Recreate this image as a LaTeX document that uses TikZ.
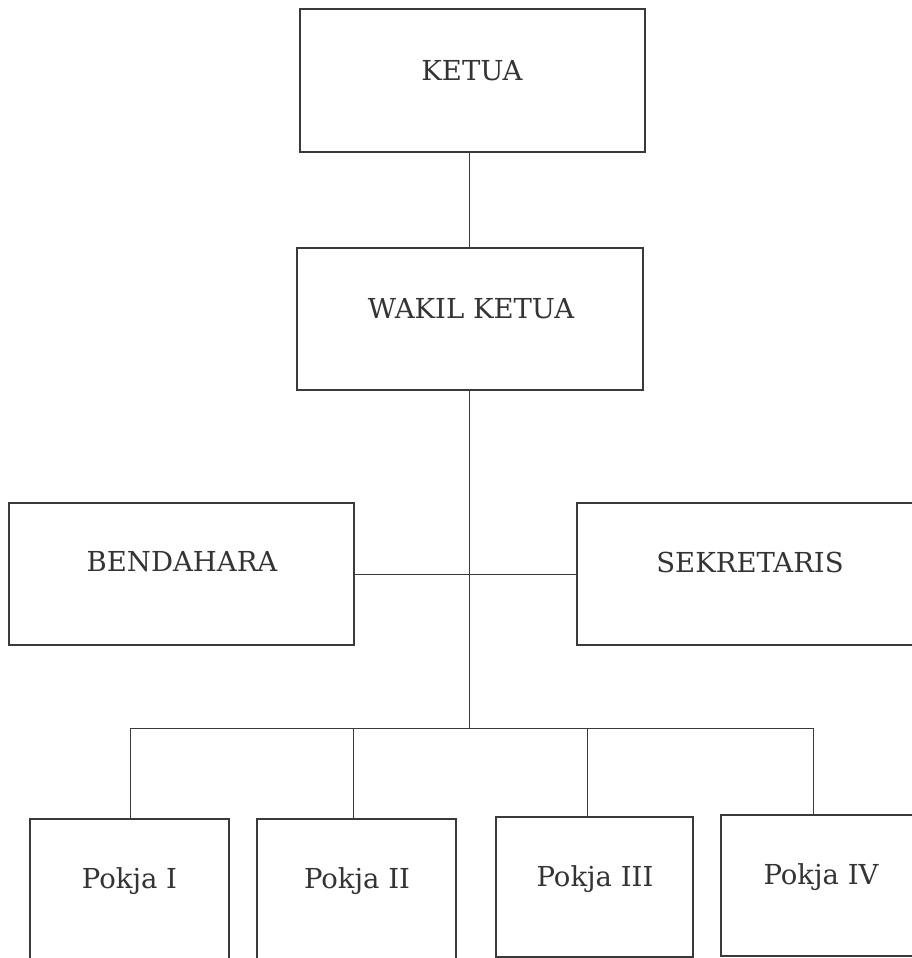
\documentclass[tikz,border=0pt]{standalone}
\usepackage{fontspec}
\setmainfont{DejaVu Serif}
\definecolor{ink}{HTML}{3A3A3A}
\begin{document}
\begin{tikzpicture}[x=1pt,y=-1pt,
  box/.style={draw=ink, line width=1.8pt, rectangle, inner sep=0pt, fill=white},
  lbl/.style={text=ink!90!black, font=\fontsize{27.5}{32}\selectfont, inner sep=0pt, anchor=center},
  link/.style={draw=ink, line width=0.9pt}]
\clip (0,0) rectangle (912,958);
\fill[white] (0,0) rectangle (912,958);

% boxes
\node[box, minimum width=345pt, minimum height=143pt] (ketua) at (472.5,80.5) {};
\node[box, minimum width=346pt, minimum height=142pt] (wakil) at (470,319) {};
\node[box, minimum width=345pt, minimum height=142pt] (bendahara) at (181.5,574) {};
\node[box, minimum width=338pt, minimum height=142pt] (sekretaris) at (746,574) {};
\node[box, minimum width=199pt, minimum height=143pt] (pokja1) at (129.5,890.5) {};
\node[box, minimum width=199pt, minimum height=143pt] (pokja2) at (356.5,890.5) {};
\node[box, minimum width=197pt, minimum height=140pt] (pokja3) at (594.5,887) {};
\node[box, minimum width=200pt, minimum height=141pt] (pokja4) at (821,885.5) {};

% labels
\node[lbl] (t-ketua) at (472,71) {KETUA};
\node[lbl] (t-wakil) at (471,309) {WAKIL KETUA};
\node[lbl] (t-bendahara) at (182,562) {BENDAHARA};
\node[lbl] (t-sekretaris) at (750,562) {SEKRETARIS};
\node[lbl] (t-pokja1) at (129.5,881) {Pokja I};
\node[lbl] (t-pokja2) at (357,881) {Pokja II};
\node[lbl] (t-pokja3) at (595,879) {Pokja III};
\node[lbl] (t-pokja4) at (821,877) {Pokja IV};

% spine and bus
\coordinate (spine) at (469,0);
\coordinate (busL) at (130,728);
\coordinate (busR) at (813,728);
\coordinate (d1) at (130,728);
\coordinate (d2) at (353,728);
\coordinate (d3) at (587,728);
\coordinate (d4) at (813,728);

\draw[link] (spine |- ketua.south) -- (spine |- wakil.north);
\draw[link] (spine |- wakil.south) -- (spine |- busL);
\draw[link] (bendahara.east) -- (sekretaris.west);
\draw[link] (busL) -- (busR);
\draw[link] (d1) -- (d1 |- pokja1.north);
\draw[link] (d2) -- (d2 |- pokja2.north);
\draw[link] (d3) -- (d3 |- pokja3.north);
\draw[link] (d4) -- (d4 |- pokja4.north);
\end{tikzpicture}
\end{document}
